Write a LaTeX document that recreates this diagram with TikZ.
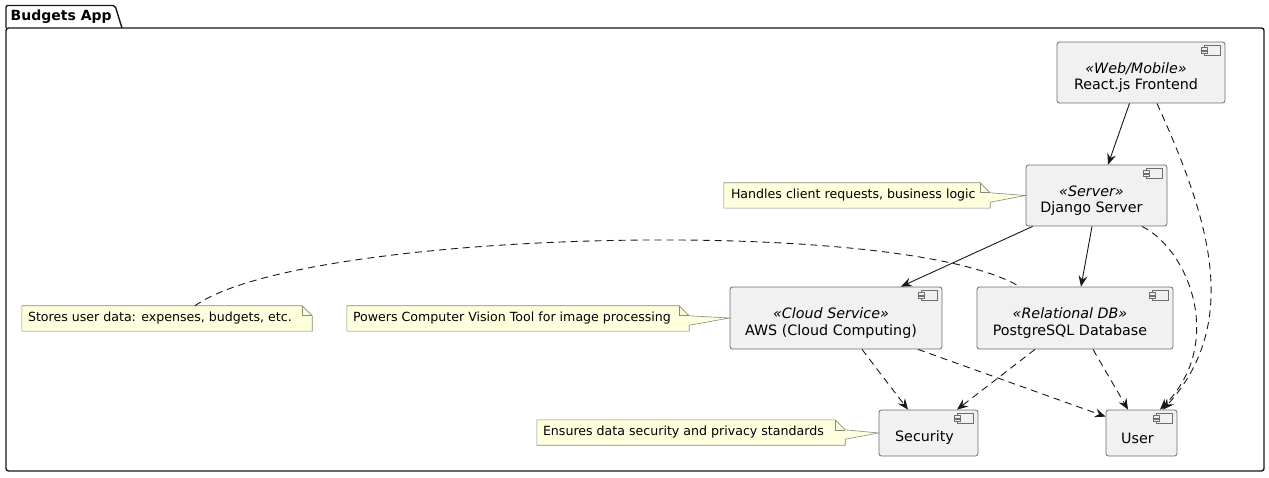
\documentclass[tikz,border=0pt]{standalone}
\usepackage{fontspec}
\setmainfont{DejaVu Sans}
\usetikzlibrary{arrows.meta,calc}
\definecolor{compfill}{HTML}{F1F1F1}
\definecolor{compborder}{HTML}{6E6E6E}
\definecolor{notefill}{HTML}{FEFFDD}
\definecolor{noteborder}{HTML}{8A8A7A}
\definecolor{linec}{HTML}{181818}
\tikzset{
  comp/.style={draw=compborder, fill=compfill, rounded corners=2.5pt, line width=0.8pt, inner sep=0pt},
  ctext/.style={font=\fontsize{14.3}{16.5}\selectfont, align=center, inner sep=0pt, text=black},
  ntext/.style={font=\fontsize{12.6}{15}\selectfont, inner sep=0pt, anchor=west, text=black},
  nbox/.style={inner sep=0pt, draw=none},
  noteline/.style={draw=noteborder, fill=notefill, line width=0.6pt, line join=miter},
  link/.style={draw=linec, line width=0.9pt, -{Stealth[length=11pt,width=9pt,inset=4pt]}},
  dlink/.style={link, dash pattern=on 7pt off 5pt},
  dline/.style={draw=linec, line width=0.9pt, dash pattern=on 7pt off 5pt},
}
\newcommand\compicon[1]{%
  \draw[compborder, line width=0.6pt, fill=compfill] ([xshift=-21pt,yshift=-4pt]#1.north east) rectangle ([xshift=-5pt,yshift=-14pt]#1.north east);
  \draw[compborder, line width=0.6pt, fill=compfill] ([xshift=-24pt,yshift=-6pt]#1.north east) rectangle ([xshift=-18pt,yshift=-8.5pt]#1.north east);
  \draw[compborder, line width=0.6pt, fill=compfill] ([xshift=-24pt,yshift=-9.5pt]#1.north east) rectangle ([xshift=-18pt,yshift=-12pt]#1.north east);
}
\newcommand\notewedge[2]{%
  \path[noteline] (#1.north west) -- ([xshift=-10pt]#1.north east) -- ([yshift=-10pt]#1.north east) -- (#2) -- ([yshift=6pt]#1.south east) -- (#1.south east) -- (#1.south west) -- cycle;
  \draw[noteborder, line width=0.6pt] ([xshift=-10pt]#1.north east) -- ([xshift=-10pt,yshift=-10pt]#1.north east) -- ([yshift=-10pt]#1.north east);
}
\newcommand\noteplain[1]{%
  \path[noteline] (#1.north west) -- ([xshift=-10pt]#1.north east) -- ([yshift=-10pt]#1.north east) -- (#1.south east) -- (#1.south west) -- cycle;
  \draw[noteborder, line width=0.6pt] ([xshift=-10pt]#1.north east) -- ([xshift=-10pt,yshift=-10pt]#1.north east) -- ([yshift=-10pt]#1.north east);
}
\begin{document}
\begin{tikzpicture}[x=1pt,y=-1pt]
\useasboundingbox[fill=white] (0,0) rectangle (1269,478);

% package frame
\draw[linec, line width=1.4pt, rounded corners=2.5pt] (6,28) -- (6,471) -- (1264,471) -- (1264,28) -- cycle;
\draw[linec, line width=1.4pt, rounded corners=2pt] (6,28) -- (6,5.5) -- (115,5.5) -- (122,28);
\node[font=\bfseries\fontsize{14}{16}\selectfont, anchor=west, inner sep=0pt] (title) at (10.5,16.5) {Budgets App};

% components
\node[comp, minimum width=168pt, minimum height=61pt] (react) at (1141,72.5) {};
\node[ctext] (reactt) at ($(react.center)+(-5,5)$) {\textit{«Web/Mobile»}\\React.js Frontend};
\compicon{react}

\node[comp, minimum width=141pt, minimum height=61pt] (django) at (1096.5,195.5) {};
\node[ctext] (djangot) at ($(django.center)+(-5,5)$) {\textit{«Server»}\\Django Server};
\compicon{django}

\node[comp, minimum width=212pt, minimum height=62pt] (aws) at (836,318) {};
\node[ctext] (awst) at ($(aws.center)+(-5,5)$) {\textit{«Cloud Service»}\\AWS (Cloud Computing)};
\compicon{aws}

\node[comp, minimum width=196pt, minimum height=62pt] (pg) at (1075,318) {};
\node[ctext] (pgt) at ($(pg.center)+(-5,5)$) {\textit{«Relational DB»}\\PostgreSQL Database};
\compicon{pg}

\node[comp, minimum width=99pt, minimum height=46pt] (sec) at (928.5,433) {};
\node[ctext] (sect) at ($(sec.center)+(-4,5)$) {Security};
\compicon{sec}

\node[comp, minimum width=71pt, minimum height=46pt] (user) at (1141.5,433) {};
\node[ctext] (usert) at ($(user.center)+(-4,5)$) {User};
\compicon{user}

% notes
\node[nbox, minimum width=266pt, minimum height=25pt] (n1) at (857,195.5) {};
\notewedge{n1}{django.west}
\node[ntext] (n1t) at ([xshift=7pt]n1.west) {Handles client requests, business logic};

\node[nbox, minimum width=290pt, minimum height=25pt] (n2) at (167,318.5) {};
\noteplain{n2}
\node[ntext] (n2t) at ([xshift=6pt]n2.west) {Stores user data: expenses, budgets, etc.};

\node[nbox, minimum width=342pt, minimum height=25pt] (n3) at (518,318.5) {};
\notewedge{n3}{aws.west}
\node[ntext] (n3t) at ([xshift=6pt]n3.west) {Powers Computer Vision Tool for image processing};

\node[nbox, minimum width=308pt, minimum height=25pt] (n4) at (691,432.5) {};
\notewedge{n4}{sec.west}
\node[ntext] (n4t) at ([xshift=6pt]n4.west) {Ensures data security and privacy standards};

% connectors
\draw[link] ([xshift=-11.5pt]react.south) -- ([xshift=11.5pt]django.north);
\draw[link] ([xshift=7pt]django.south west) -- ([xshift=65pt]aws.north);
\draw[link] ([xshift=-4.5pt]django.south) -- ([xshift=6pt]pg.north);

\draw[dlink] ([xshift=16pt]react.south) .. controls +(48,107) and +(82,-90) .. ([xshift=21.5pt]user.north);
\draw[dlink] ([xshift=45.5pt]django.south) .. controls +(48,24) and +(65,-65) .. ([xshift=18.5pt]user.north);

\draw[dlink] ([xshift=26pt]aws.south) -- ([xshift=-20.5pt]sec.north);
\draw[dlink] ([xshift=82pt]aws.south) -- ([yshift=-7pt]user.north west);
\draw[dlink] ([xshift=-40pt]pg.south) -- ([xshift=28.5pt]sec.north);
\draw[dlink] ([xshift=18pt]pg.south) -- ([xshift=-13.5pt]user.north);

\draw[dline] ([xshift=28pt]n2.north) .. controls +(105,-76) and +(-120,-72) .. ([xshift=43pt]pg.north west);
\end{tikzpicture}
\end{document}
